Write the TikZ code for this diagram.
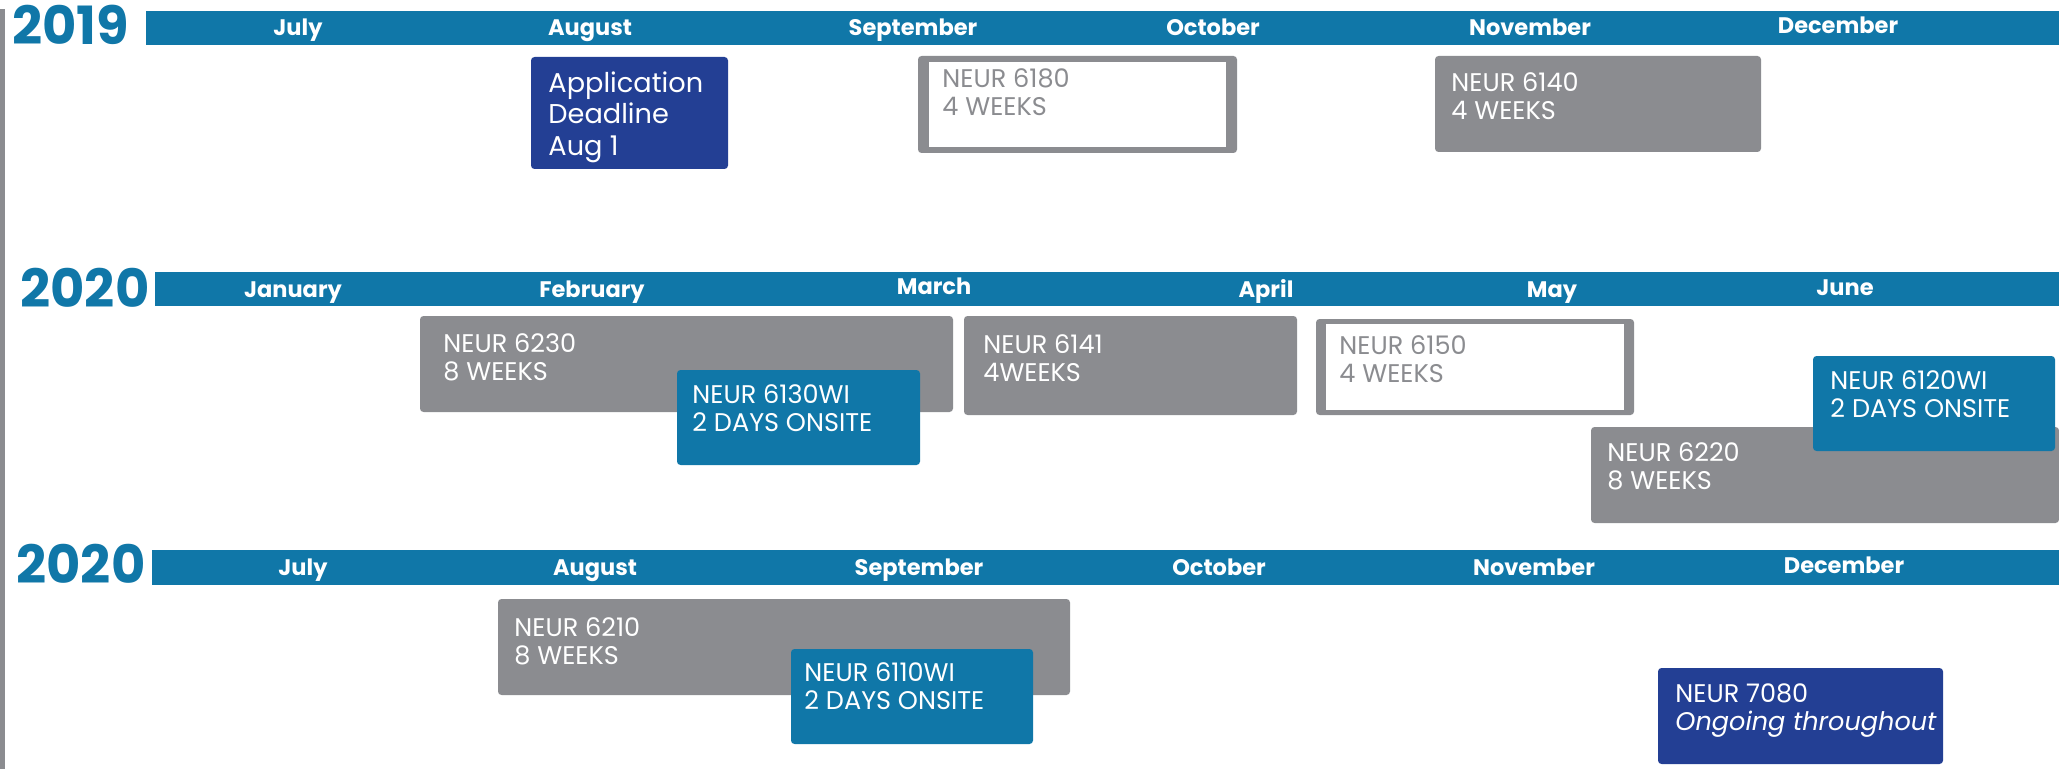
\documentclass[tikz,border=0pt]{standalone}
\usepackage{fontspec}
\setmainfont{Poppins}
\usepackage{xcolor}

\definecolor{barblue}{RGB}{16,119,168}
\definecolor{deepblue}{RGB}{35,63,148}
\definecolor{boxgrey}{RGB}{139,140,144}

\tikzset{
  year/.style={text=barblue, font=\bfseries\fontsize{22.5}{26}\selectfont, inner sep=0pt, anchor=base west},
  month/.style={text=white, font=\bfseries\fontsize{9.6}{11}\selectfont, inner sep=0pt, anchor=base},
  lab/.style={text=white, font=\fontsize{10.9}{12}\selectfont, align=left, inner sep=0pt, anchor=north west},
  greylab/.style={lab, text=boxgrey},
  biglab/.style={lab, font=\fontsize{11.6}{13.45}\selectfont},
  course/.style={rounded corners=1.5pt}
}

\begin{document}
\begin{tikzpicture}[x=0.015cm, y=-0.015cm]
\useasboundingbox (0,0) rectangle (2059,769);
\fill[boxgrey] (0,9) rectangle (5,769);

% 2019
\node[year] (y2019) at (12,45) {2019};
\fill[barblue] (146,11) rectangle (2059,45);
\node[month] (jul19) at (298,36) {July};
\node[month] (aug19) at (590,36) {August};
\node[month] (sep19) at (913,36) {September};
\node[month] (oct19) at (1213,36) {October};
\node[month] (nov19) at (1530,36) {November};
\node[month] (dec19) at (1838,34) {December};

\fill[deepblue, course] (531,57) rectangle (728,169);
\node[biglab] (deadline) at (548,71) {Application\\Deadline\\Aug 1};

\fill[boxgrey, course] (918,56) rectangle (1237,153);
\fill[white] (929,62) rectangle (1226,147);
\node[greylab] (n6180) at (942,68) {NEUR 6180\\4 WEEKS};

\fill[boxgrey, course] (1435,56) rectangle (1761,152);
\node[lab] (n6140) at (1451,72) {NEUR 6140\\4 WEEKS};

% 2020, first half
\node[year] (y2020a) at (20,307) {2020};
\fill[barblue] (155,272) rectangle (2059,306);
\node[month] (jan20) at (293,297) {January};
\node[month] (feb20) at (592,297) {February};
\node[month] (mar20) at (934,295) {March};
\node[month] (apr20) at (1266,297) {April};
\node[month] (may20) at (1552,297) {May};
\node[month] (jun20) at (1845,296) {June};

\fill[boxgrey, course] (420,316) rectangle (953,412);
\node[lab] (n6230) at (443,333) {NEUR 6230\\8 WEEKS};
\fill[barblue, course] (677,370) rectangle (920,465);
\node[lab] (n6130) at (692,384) {NEUR 6130WI\\2 DAYS ONSITE};

\fill[boxgrey, course] (964,316) rectangle (1297,415);
\node[lab] (n6141) at (983,334) {NEUR 6141\\4WEEKS};

\fill[boxgrey, course] (1316,319) rectangle (1634,415);
\fill[white] (1326,324) rectangle (1624,410);
\node[greylab] (n6150) at (1339,335) {NEUR 6150\\4 WEEKS};

\fill[boxgrey, course] (1591,427) rectangle (2059,523);
\node[lab] (n6220) at (1607,442) {NEUR 6220\\8 WEEKS};
\fill[barblue, course] (1813,356) rectangle (2055,451);
\node[lab] (n6120) at (1830,370) {NEUR 6120WI\\2 DAYS ONSITE};

% 2020, second half
\node[year] (y2020b) at (16,583) {2020};
\fill[barblue] (152,550) rectangle (2059,585);
\node[month] (jul20) at (303,575) {July};
\node[month] (aug20) at (595,575) {August};
\node[month] (sep20) at (919,575) {September};
\node[month] (oct20) at (1219,575) {October};
\node[month] (nov20) at (1534,575) {November};
\node[month] (dec20) at (1844,573) {December};

\fill[boxgrey, course] (498,599) rectangle (1070,695);
\node[lab] (n6210) at (514,617) {NEUR 6210\\8 WEEKS};
\fill[barblue, course] (791,649) rectangle (1033,744);
\node[lab] (n6110) at (804,662) {NEUR 6110WI\\2 DAYS ONSITE};

\fill[deepblue, course] (1658,668) rectangle (1943,764);
\node[lab] (n7080) at (1675,683) {NEUR 7080\\\textit{Ongoing throughout}};
\end{tikzpicture}
\end{document}
